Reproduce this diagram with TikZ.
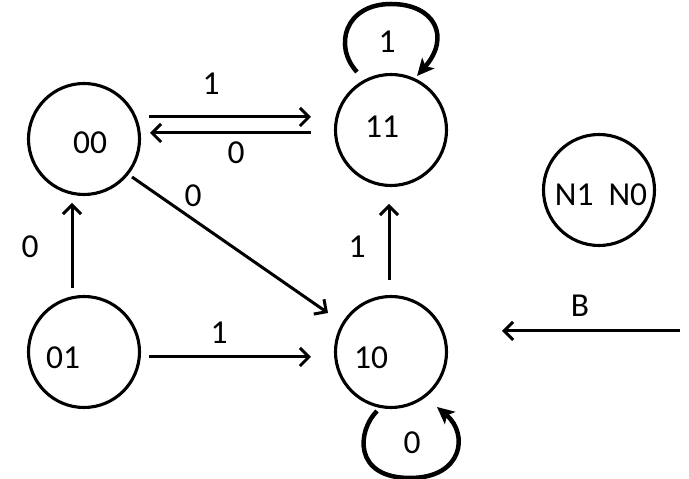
\documentclass[tikz,border=0pt]{standalone}
\usepackage{fontspec}
\setmainfont{Carlito}
\usetikzlibrary{arrows.meta,calc}
\begin{document}
\begin{tikzpicture}[x=1pt,y=1pt,
  state/.style={circle,draw,line width=3.1pt,minimum size=111pt,inner sep=0pt},
  lbl/.style={inner sep=0pt,font=\fontsize{33.5}{40}\selectfont},
  arr/.style={line width=3pt,-{Straight Barb[length=9pt,width=18pt]}},
  loop/.style={line width=4.5pt,-{Stealth[length=17pt,width=16pt,inset=4pt]}}]
\useasboundingbox (0,0) rectangle (689,479);
% states
\node[state] (c00) at (84,340) {};
\node[state] (c11) at (391,349) {};
\node[state] (cN) at (599,289) {};
\node[state] (c01) at (84,127) {};
\node[state] (c10) at (391,127) {};
% state texts
\node[lbl] (t00) at (90,336) {00};
\node[lbl] (t11) at (382,352) {11};
\node[lbl] (tN) at (601,284) {N1\hspace{0.45em}N0};
\node[lbl] (t01) at (63,121) {01};
\node[lbl] (t10) at (371,121) {10};
% transitions
\draw[arr] ($(c00)+(65,22)$) -- ($(c11)+(-80,13)$);
\node[lbl] (l1) at (211,395) {1};
\draw[arr] ($(c11)+(-80,-3)$) -- ($(c00)+(66,6)$);
\node[lbl] (l2) at (236,326) {0};
\draw[arr] ($(c00)+(48,-38)$) -- ($(c10)+(-63,39)$);
\node[lbl] (l3) at (193,283) {0};
\draw[arr] ($(c01)+(-12,64)$) -- ($(c00)+(-12,-64)$);
\node[lbl] (l4) at (30,232) {0};
\draw[arr] ($(c01)+(65,-5)$) -- ($(c10)+(-80,-5)$);
\node[lbl] (l5) at (219,146) {1};
\draw[arr] ($(c10)+(-2,72)$) -- ($(c11)+(-2,-74)$);
\node[lbl] (l6) at (357,232) {1};
% self loops
\draw[loop] ($(c11)+(-34,58)$) .. controls ($(c11)+(-58,84)$) and ($(c11)+(-46,126)$) .. ($(c11)+(0,126)$)
  .. controls ($(c11)+(44,126)$) and ($(c11)+(60,93)$) .. ($(c11)+(26,54)$);
\node[lbl] (l7) at (387,437) {1};
\draw[loop] ($(c10)+(-14,-59)$) .. controls ($(c10)+(-34,-79)$) and ($(c10)+(-38,-126)$) .. ($(c10)+(19,-126)$)
  .. controls ($(c10)+(72,-126)$) and ($(c10)+(78,-82)$) .. ($(c10)+(46,-55)$);
\node[lbl] (l8) at (412,36) {0};
% B input
\coordinate (bs) at (680,148);
\coordinate (be) at (502,148);
\draw[arr] (bs) -- (be);
\node[lbl] (lB) at (580,173) {B};
\end{tikzpicture}
\end{document}
